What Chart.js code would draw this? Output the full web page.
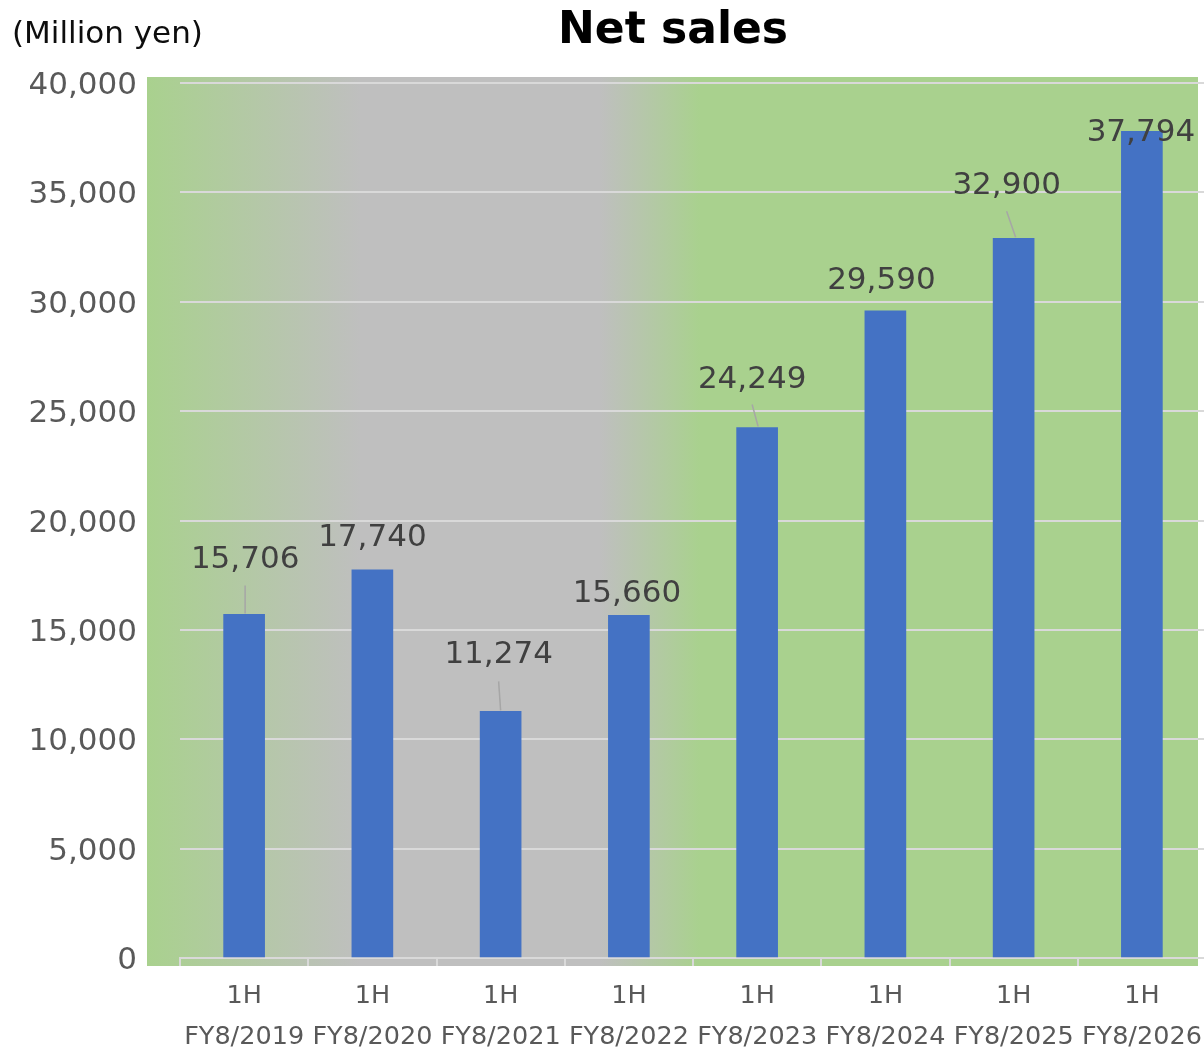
<!DOCTYPE html>
<html>
<head>
<meta charset="utf-8">
<script src="https://cdn.jsdelivr.net/npm/chart.js@4.4.1/dist/chart.umd.min.js"></script>
<style>
  html, body { margin: 0; padding: 0; background: #ffffff; overflow: hidden; }
  #wrap { width: 1204px; height: 1050px; overflow: hidden; position: relative; }
  canvas { display: block; }
</style>
</head>
<body>
<div id="wrap"><canvas id="c" width="1206" height="1050"></canvas></div>
<script>
// ---- data ----
const periods = ['1H', '1H', '1H', '1H', '1H', '1H', '1H', '1H'];
const fiscalYears = ['FY8/2019', 'FY8/2020', 'FY8/2021', 'FY8/2022', 'FY8/2023', 'FY8/2024', 'FY8/2025', 'FY8/2026'];
const netSales = [15706, 17740, 11274, 15660, 24249, 29590, 32900, 37794];
const yTicks = [0, 5000, 10000, 15000, 20000, 25000, 30000, 35000, 40000];
const chartTitle = 'Net sales';
const unitLabel = '(Million yen)';

// ---- label placement (offsets from bar top centre, px) ----
const labelOffsets = [[1, -57], [0, -35], [-2, -59], [-2, -24], [-5, -51], [-4, -33], [-7, -55], [-1, -1]];
const leaderLines = [[1, -29, 1, -1], null, [-2, -30, 0, -1], null, [-5, -23, 1, -1], null, [-7, -27, 2, -1], null];

const FONT = "'DejaVu Sans', Verdana, sans-serif";
const fmt = v => Number(v).toLocaleString('en-US');

const bgPlugin = {
  id: 'plotBg',
  beforeDraw(chart) {
    const { ctx, chartArea: a } = chart;
    const x0 = a.left - 33, x1 = a.right - 8;
    const y0 = a.top - 6, y1 = a.bottom + 8;
    const g = ctx.createLinearGradient(x0, 0, x1, 0);
    g.addColorStop(0, '#a9d18e');
    g.addColorStop(0.203, '#bfbfbf');
    g.addColorStop(0.431, '#bfbfbf');
    g.addColorStop(0.526, '#a9d18e');
    g.addColorStop(1, '#a9d18e');
    ctx.save();
    ctx.fillStyle = g;
    ctx.fillRect(x0, y0, x1 - x0, y1 - y0);
    ctx.restore();
  }
};

const headerPlugin = {
  id: 'headerText',
  afterDraw(chart) {
    const { ctx } = chart;
    ctx.save();
    ctx.textBaseline = 'alphabetic';
    ctx.font = 'bold 44px ' + FONT;
    ctx.fillStyle = '#000000';
    ctx.textAlign = 'center';
    ctx.fillText(chartTitle, 673, 43);
    ctx.font = '31px ' + FONT;
    ctx.fillStyle = '#0d0d0d';
    ctx.textAlign = 'left';
    ctx.fillText(unitLabel, 12, 43);
    ctx.restore();
  }
};

const labelPlugin = {
  id: 'barLabels',
  afterDatasetsDraw(chart) {
    const { ctx } = chart;
    const meta = chart.getDatasetMeta(0);
    ctx.save();
    meta.data.forEach((bar, i) => {
      const ll = leaderLines[i];
      if (ll) {
        ctx.strokeStyle = '#a6a6a6';
        ctx.lineWidth = 1.5;
        ctx.beginPath();
        ctx.moveTo(bar.x + ll[0], bar.y + ll[1]);
        ctx.lineTo(bar.x + ll[2], bar.y + ll[3]);
        ctx.stroke();
      }
    });
    ctx.font = '31px ' + FONT;
    ctx.fillStyle = '#404040';
    ctx.textAlign = 'center';
    ctx.textBaseline = 'middle';
    meta.data.forEach((bar, i) => {
      const off = labelOffsets[i];
      ctx.fillText(fmt(netSales[i]), bar.x + off[0], bar.y + off[1] + 3);
    });
    ctx.restore();
  }
};

new Chart(document.getElementById('c'), {
  type: 'bar',
  data: {
    labels: periods.map((p, i) => [p, fiscalYears[i]]),
    datasets: [{
      label: chartTitle,
      data: netSales,
      backgroundColor: '#4472c4',
      borderWidth: 0,
      barThickness: 41
    }]
  },
  options: {
    responsive: false,
    animation: false,
    devicePixelRatio: 1,
    layout: { padding: { left: 0, right: 0, top: 83, bottom: 0 } },
    plugins: {
      legend: { display: false },
      tooltip: { enabled: false },
      title: { display: false }
    },
    scales: {
      x: {
        offset: true,
        grid: {
          display: true,
          offset: true,
          drawOnChartArea: false,
          drawTicks: true,
          tickLength: 8,
          color: '#d9d9d9',
          lineWidth: 2
        },
        border: { display: true, color: '#d9d9d9', width: 2 },
        ticks: {
          color: '#595959',
          font: { family: FONT, size: 25.5, lineHeight: 1.63 },
          padding: 9.5,
          maxRotation: 0,
          autoSkip: false
        },
        afterFit(scale) {
          scale.height = 92;
          scale.paddingLeft = 0;
          scale.paddingRight = 0;
        }
      },
      y: {
        min: 0,
        max: 40000,
        afterBuildTicks(scale) { scale.ticks = yTicks.map(v => ({ value: v })); },
        grid: { color: '#d9d9d9', lineWidth: 2, drawTicks: false },
        border: { display: false },
        ticks: {
          color: '#595959',
          font: { family: FONT, size: 31 },
          padding: 43,
          labelOffset: 3,
          callback: v => fmt(v)
        },
        afterFit(scale) {
          scale.width = 180;
          scale.paddingTop = 0;
          scale.paddingBottom = 0;
        }
      }
    }
  },
  plugins: [bgPlugin, labelPlugin, headerPlugin]
});
</script>
</body>
</html>
